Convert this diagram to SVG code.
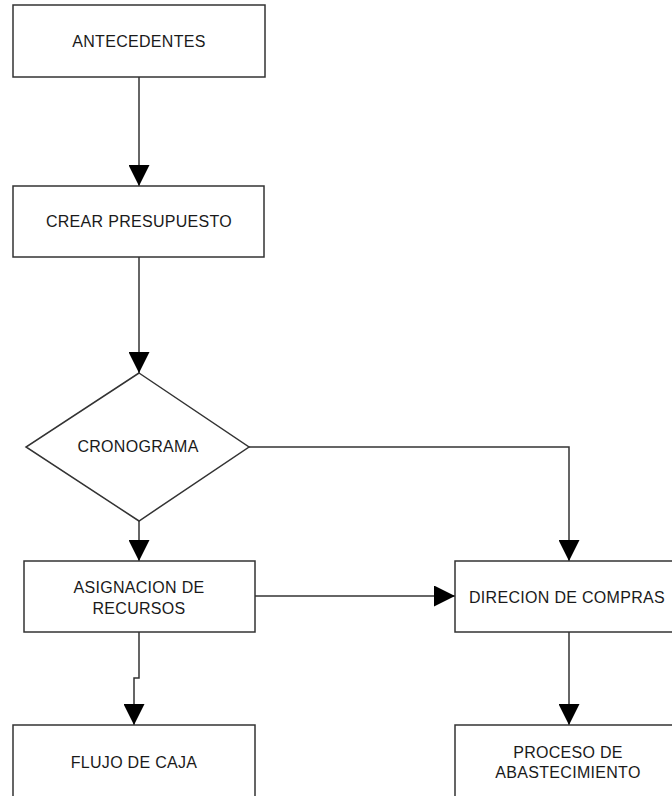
<svg xmlns="http://www.w3.org/2000/svg" width="672" height="796" viewBox="0 0 672 796">
  <style>
    .box { fill: #ffffff; stroke: #333333; stroke-width: 1.5; }
    .wire { fill: none; stroke: #333333; stroke-width: 1.5; marker-end: url(#head); }
    .label { font-family: "Liberation Sans", Arial, sans-serif; font-size: 16px; letter-spacing: 0.3px; fill: #1a1a1a; text-anchor: middle; }
  </style>
  <defs>
    <marker id="head" markerUnits="userSpaceOnUse" markerWidth="21" markerHeight="21" viewBox="0 0 20 20" refX="20" refY="10" orient="auto">
      <path d="M0,0 L20,10 L0,20 Z" fill="#000000"/>
    </marker>
  </defs>
  <rect width="672" height="796" fill="#ffffff"/>

  <!-- connectors -->
  <g id="connectors">
    <path class="wire" d="M139,77 L139,186"/>
    <path class="wire" d="M139,257 L139,373"/>
    <path class="wire" d="M139,521 L139,561"/>
    <path class="wire" d="M249,447 L569,447 L569,561"/>
    <path class="wire" d="M255,596 L455,596"/>
    <path class="wire" d="M139,632 L139,678 L134,678 L134,725"/>
    <path class="wire" d="M569,632 L569,725"/>
  </g>

  <g id="antecedentes">
    <rect class="box" x="13" y="5" width="252" height="72"/>
    <text class="label" x="139" y="47">ANTECEDENTES</text>
  </g>

  <g id="crear-presupuesto">
    <rect class="box" x="13" y="186" width="251" height="71"/>
    <text class="label" x="139" y="227">CREAR PRESUPUESTO</text>
  </g>

  <g id="cronograma">
    <polygon class="box" points="139,373 249,447 139,521 26,447"/>
    <text class="label" x="138" y="452">CRONOGRAMA</text>
  </g>

  <g id="asignacion">
    <rect class="box" x="24" y="561" width="231" height="71"/>
    <text class="label" x="139" y="593">ASIGNACION DE</text>
    <text class="label" x="139" y="614">RECURSOS</text>
  </g>

  <g id="direcion-compras">
    <rect class="box" x="455" y="561" width="228" height="71"/>
    <text class="label" x="567" y="603">DIRECION DE COMPRAS</text>
  </g>

  <g id="flujo-caja">
    <rect class="box" x="13" y="725" width="242" height="72"/>
    <text class="label" x="134" y="768">FLUJO DE CAJA</text>
  </g>

  <g id="proceso-abastecimiento">
    <rect class="box" x="455" y="725" width="228" height="72"/>
    <text class="label" x="568" y="758">PROCESO DE</text>
    <text class="label" x="568" y="778">ABASTECIMIENTO</text>
  </g>
</svg>
